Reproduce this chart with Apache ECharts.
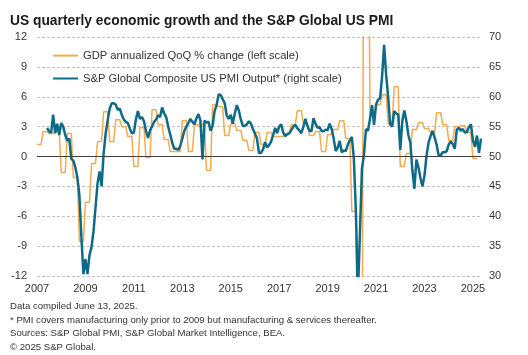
<!DOCTYPE html>
<html>
<head>
<meta charset="utf-8">
<script src="https://cdn.jsdelivr.net/npm/echarts@6/dist/echarts.min.js"></script>
<style>
html,body{margin:0;padding:0;background:#fff;}
#chart{width:528px;height:355px;}
</style>
</head>
<body>
<div id="chart"></div>
<script>
// ---- Data ----
var startYear = 2007;
var endYear = 2025, endMonth = 5; // last month shown: May 2025
var tickYears = ['2007','2009','2011','2013','2015','2017','2019','2021','2023','2025'];

var gdpName = 'GDP annualized QoQ % change (left scale)';
var pmiName = 'S&P Global Composite US PMI Output* (right scale)';

// Quarterly real GDP, annualized QoQ % change, 2007 Q1 .. 2025 Q1
var gdpQuarterly = [
  1.2, 2.5, 2.3, 2.5,
  -1.6, 2.3, -2.1, -8.5,
  -4.6, -0.7, 1.5, 4.5,
  1.5, 3.7, 3.0, 2.0,
  -1.0, 2.9, -0.1, 4.7,
  3.2, 1.7, 0.5, 0.5,
  3.6, 0.5, 3.2, 3.2,
  -1.4, 5.2, 5.0, 2.1,
  3.3, 2.6, 1.6, 0.6,
  2.4, 1.2, 2.4, 2.0,
  2.0, 2.3, 3.2, 4.6,
  3.3, 2.1, 2.5, 0.5,
  2.2, 2.7, 3.6, 1.8,
  -5.5, -28.0, 34.8, 4.2,
  5.2, 6.2, 3.3, 7.0,
  -1.0, 0.3, 2.7, 3.4,
  2.8, 2.4, 4.4, 3.2,
  1.6, 3.0, 3.1, 2.4,
  -0.2
];

// Monthly PMI output index, Jan 2007 .. May 2025 (manufacturing only before 2009)
var pmiMonthly = [
  null, null, null, null, null, 54.8, 54.2, 54.0, 57.0, 53.9, 55.5, 53.6,
  55.6, 55.0, 53.6, 52.6, 53.0, 49.6, 49.3, 48.2, 46.5, 43.5, 36.5, 30.3,
  32.8, 30.3, 33.5, 34.8, 37.5, 41.5, 45.5, 47.5, 45.0, 50.5, 53.8, 56.0,
  58.0, 58.9, 58.9, 58.7, 57.8, 58.0, 57.0, 56.2, 55.8, 55.6, 54.7, 53.9,
  54.0, 56.2, 57.6, 56.3, 56.6, 55.9, 54.3, 53.1, 54.4, 55.0, 55.8, 56.2,
  56.9, 56.6, 58.2, 57.2, 56.6, 55.0, 53.7, 52.3, 51.3, 51.3, 51.1, 51.8,
  53.0, 54.3, 55.0, 55.6, 56.3, 55.8, 55.4, 56.4, 57.1, 56.0, 49.5, 56.0,
  55.7, 55.8, 54.3, 55.1, 57.6, 58.6, 60.4, 60.3, 59.6, 58.9, 56.9, 56.3,
  57.0, 55.5, 57.2, 58.6, 57.7, 56.2, 55.1, 55.1, 55.4, 55.9, 55.5, 54.6,
  53.8, 53.0, 50.6, 50.6, 51.2, 52.4, 51.5, 51.9, 52.5, 53.6, 54.8, 53.9,
  55.0, 55.4, 54.0, 53.4, 53.7, 53.9, 54.4, 55.0, 55.3, 54.7, 54.4, 53.9,
  55.0, 56.3, 55.1, 54.3, 54.2, 56.4, 55.5, 54.8, 54.9, 54.3, 54.2, 54.5,
  54.4, 55.5, 54.6, 53.0, 50.9, 51.5, 52.6, 50.7, 51.0, 50.9, 52.0, 52.7,
  53.3, 49.6, 40.9, 27.0, 37.0, 47.9, 50.3, 54.6, 54.3, 56.3, 58.6, 55.3,
  58.7, 59.5, 59.7, 63.5, 68.7, 63.7, 59.9, 55.4, 55.0, 57.6, 57.2, 57.0,
  51.1, 55.9, 57.7, 56.0, 53.6, 52.3, 47.7, 44.6, 49.5, 48.2, 46.4, 45.0,
  46.8, 50.1, 52.3, 53.4, 54.3, 53.2, 52.0, 50.2, 50.2, 50.7, 50.7, 50.9,
  52.0, 52.5, 52.1, 51.3, 54.5, 54.8, 54.3, 54.6, 54.0, 54.1, 54.9, 55.4,
  52.7, 51.6, 53.5, 50.6, 53.0
];

var footnotes = [
  'Data compiled June 13, 2025.',
  '* PMI covers manufacturing only prior to 2009 but manufacturing & services thereafter.',
  'Sources: S&P Global PMI, S&P Global Market Intelligence, BEA.',
  '\u00A9 2025 S&P Global.'
];
var titleText = 'US quarterly economic growth and the S&P Global US PMI';

// ---- Build monthly categories; each quarterly GDP value is held for its 3 months ----
var months = [];
for (var y = startYear; y <= endYear; y++) {
  for (var mo = 1; mo <= 12; mo++) {
    if (y === endYear && mo > endMonth) break;
    months.push(y + '-' + (mo < 10 ? '0' + mo : mo));
  }
}
var gdpMonthly = months.map(function (m, i) {
  var q = Math.floor(i / 3);
  return q < gdpQuarterly.length ? gdpQuarterly[q] : null;
});

var FONT = 'Liberation Sans, Arial, sans-serif';
var chart = echarts.init(document.getElementById('chart'), null, {renderer: 'canvas'});

var graphics = [{
  type: 'text', left: 10, top: 14,
  style: {text: titleText, font: 'bold 13.8px ' + FONT, fill: '#1a1a1a'}
}];
footnotes.forEach(function (t, i) {
  graphics.push({
    type: 'text', left: 10, top: 301.5 + i * 13.6,
    style: {text: t, font: '9.6px ' + FONT, fill: '#333'}
  });
});

chart.setOption({
  animation: false,
  backgroundColor: '#fff',
  textStyle: {fontFamily: FONT},
  graphic: graphics,
  grid: {left: 37, right: 47, top: 37, bottom: 79},
  legend: {
    orient: 'vertical', left: 47, top: 45, itemGap: 11.7,
    itemWidth: 25, itemHeight: 14,
    itemStyle: {opacity: 0, borderWidth: 0},
    textStyle: {fontSize: 11.2, color: '#333', fontFamily: FONT},
    data: [gdpName, pmiName]
  },
  xAxis: {
    type: 'category', data: months, boundaryGap: false,
    axisLine: {show: false}, axisTick: {show: false},
    axisLabel: {
      margin: 7, fontSize: 11, color: '#333',
      interval: function (idx, val) {
        return val.slice(5) === '01' && tickYears.indexOf(val.slice(0, 4)) >= 0;
      },
      formatter: function (val) { return val.slice(0, 4); }
    },
    splitLine: {show: false}
  },
  yAxis: [{
    type: 'value', min: -12, max: 12, interval: 3, position: 'left',
    axisLine: {show: false}, axisTick: {show: false},
    axisLabel: {margin: 10, fontSize: 11, color: '#333'},
    splitLine: {show: true, lineStyle: {color: '#c4c4c4', type: [3, 2], width: 1}}
  }, {
    type: 'value', min: 30, max: 70, interval: 5, position: 'right',
    axisLine: {show: false}, axisTick: {show: false},
    axisLabel: {margin: 8, fontSize: 11, color: '#333'},
    splitLine: {show: false}
  }],
  series: [{
    name: gdpName, type: 'line', yAxisIndex: 0, data: gdpMonthly,
    symbol: 'none', clip: true, z: 2,
    lineStyle: {color: '#F4AA4E', width: 1.5},
    itemStyle: {color: '#F4AA4E'},
    markLine: {
      silent: true, symbol: 'none', label: {show: false},
      lineStyle: {color: '#404040', width: 1, type: 'solid'},
      data: [{yAxis: 0}]
    }
  }, {
    name: pmiName, type: 'line', yAxisIndex: 1, data: pmiMonthly,
    symbol: 'none', clip: true, z: 3,
    lineStyle: {color: '#0E6A87', width: 2.5},
    itemStyle: {color: '#0E6A87'}
  }]
});
</script>
</body>
</html>
